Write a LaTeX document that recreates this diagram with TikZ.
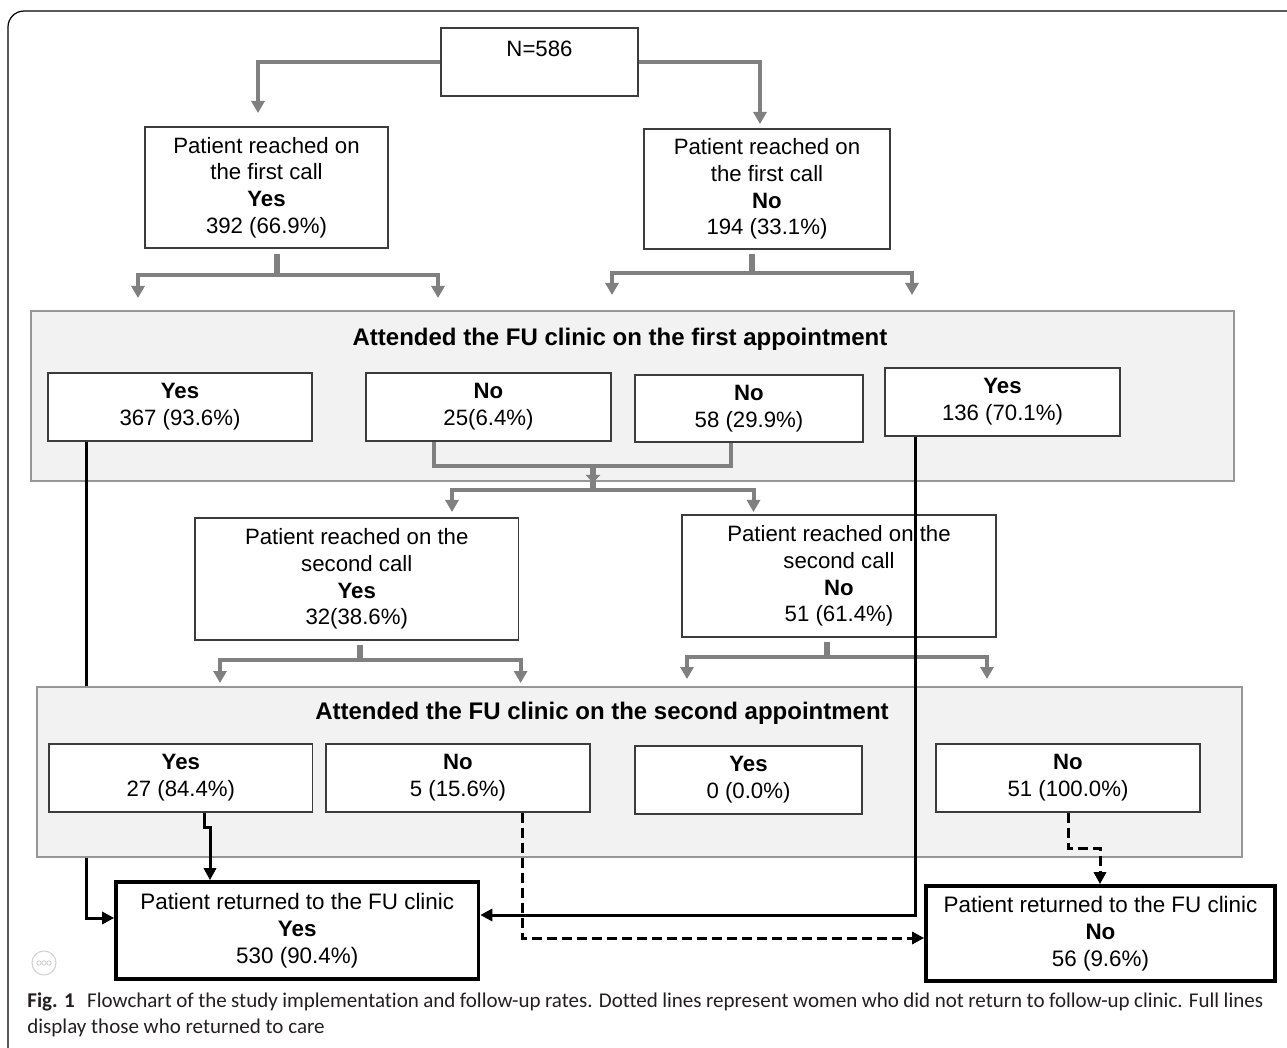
\documentclass[tikz,border=0pt]{standalone}
\usepackage{fontspec}
\setmainfont{Liberation Sans}
\newfontfamily\capfont[Ligatures=NoCommon]{Carlito}
\usetikzlibrary{arrows.meta,calc}
\definecolor{glinec}{RGB}{128,128,128}
\definecolor{pfill}{RGB}{242,242,242}
\definecolor{pborder}{RGB}{150,150,150}
\definecolor{bborder}{RGB}{60,60,60}
\definecolor{captxt}{RGB}{35,31,32}
\begin{document}
\begin{tikzpicture}[x=0.5pt,y=-0.5pt,
  box/.style={draw=bborder, line width=0.7pt, fill=white, inner sep=0pt, align=center, font=\fontsize{11.1}{13.4}\selectfont},
  panel/.style={draw=pborder, line width=1.2pt, fill=pfill, inner sep=0pt},
  final/.style={draw=black, line width=1.8pt, fill=white, inner sep=0pt, align=center, font=\fontsize{11.2}{13.4}\selectfont},
  heading/.style={font=\fontsize{12}{14}\selectfont\bfseries, inner sep=0pt},
  glink/.style={draw=glinec, line width=2pt},
  garrow/.style={draw=glinec, line width=2pt, -{Triangle[width=6.5pt,length=6pt]}},
  gstem/.style={draw=glinec, line width=3pt},
  barrow/.style={draw=black, line width=1.5pt, -{Triangle[width=6pt,length=6pt]}},
  darrow/.style={barrow, dash pattern=on 5pt off 2.5pt},
]
\useasboundingbox (0,0) rectangle (1287,1048);
\clip (0,0) rectangle (1287,1048);
\fill[white] (0,0) rectangle (1287,1048);
\draw[line width=0.6pt, rounded corners=8pt] (8,11) rectangle (1320,1075);

% top level
\node[box, minimum width=98.5pt, minimum height=34pt] (n0) at (539.5,62) {N=586\\\mbox{}};
\node[box, minimum width=121.5pt, minimum height=60.5pt] (c1y) at (266.5,187.5) {Patient reached on\\the first call\\\textbf{Yes}\\392 (66.9\%)};
\node[box, minimum width=123pt, minimum height=60pt] (c1n) at (767,189) {Patient reached on\\the first call\\\textbf{No}\\194 (33.1\%)};

\coordinate (t0a) at (258,113);
\coordinate (t0b) at (760,124);
\draw[garrow] (n0.west) -| (t0a);
\draw[garrow] (n0.east) -| (t0b);

\coordinate (j1) at (277,275);
\coordinate (t1a) at (138,298);
\coordinate (t1b) at (438,298);
\draw[gstem] ($(c1y.south -| j1)+(0,5)$) -- ($(j1)+(0,1)$);
\draw[garrow] (j1) -| (t1a);
\draw[garrow] (j1) -| (t1b);

\coordinate (j2) at (752,273);
\coordinate (t2a) at (612,295);
\coordinate (t2b) at (912,295);
\draw[gstem] ($(c1n.south -| j2)+(0,4)$) -- ($(j2)+(0,1)$);
\draw[garrow] (j2) -| (t2a);
\draw[garrow] (j2) -| (t2b);

% first appointment panel
\node[panel, minimum width=601.5pt, minimum height=85pt] (p1) at (632.5,396) {};
\node[heading] (h1) at (620,339) {Attended the FU clinic on the first appointment};
\node[box, minimum width=132pt, minimum height=34pt] (a1y) at (180,407) {\textbf{Yes}\\367 (93.6\%)};
\node[box, minimum width=122.5pt, minimum height=34pt] (a1n1) at (488.5,407) {\textbf{No}\\25(6.4\%)};
\node[box, minimum width=114pt, minimum height=33.5pt] (a1n2) at (749,408.5) {\textbf{No}\\58 (29.9\%)};
\node[box, minimum width=117.5pt, minimum height=34pt] (a1y2) at (1002.5,402) {\textbf{Yes}\\136 (70.1\%)};

\coordinate (j3a) at (433.5,466);
\coordinate (j3b) at (731,466);
\coordinate (j3) at (593,466);
\coordinate (j4) at (593,490);
\coordinate (t4a) at (452,512);
\coordinate (t4b) at (753.5,512);
\draw[glink] (a1n1.south -| j3a) -- (j3a) -- (j3b) -- (a1n2.south -| j3b);
\draw[draw=glinec, line width=3pt, -{Triangle[width=7pt,length=4pt]}] (j3) -- (593,483);
\draw[gstem] (593,481) -- ($(j4)+(0,2)$);
\draw[garrow] (j4) -| (t4a);
\draw[garrow] (j4) -| (t4b);

% second call
\node[box, minimum width=161.75pt, minimum height=61pt] (c2y) at (356.75,579) {Patient reached on the\\second call\\\textbf{Yes}\\32(38.6\%)};
\node[box, minimum width=157pt, minimum height=61pt] (c2n) at (839,576) {Patient reached on the\\second call\\\textbf{No}\\51 (61.4\%)};

\coordinate (j5) at (360,660);
\coordinate (t5a) at (220,683);
\coordinate (t5b) at (520.6,683);
\draw[gstem] ($(c2y.south -| j5)+(0,4)$) -- ($(j5)+(0,1)$);
\draw[garrow] (j5) -| (t5a);
\draw[garrow] (j5) -| (t5b);

\coordinate (j6) at (827,657);
\coordinate (t6a) at (687,679);
\coordinate (t6b) at (987,679);
\draw[gstem] ($(c2n.south -| j6)+(0,4)$) -- ($(j6)+(0,1)$);
\draw[garrow] (j6) -| (t6a);
\draw[garrow] (j6) -| (t6b);

% final boxes
\node[final, minimum width=181.25pt, minimum height=48.5pt] (fy) at (297.25,930.5) {Patient returned to the FU clinic\\\textbf{Yes}\\530 (90.4\%)};
\node[final, minimum width=174.5pt, minimum height=47.5pt] (fn) at (1100.5,933.5) {Patient returned to the FU clinic\\\textbf{No}\\56 (9.6\%)};

% black line behind second panel
\coordinate (k1) at (86,918);
\draw[barrow] (a1y.south -| k1) -- (k1) -- (fy.west |- k1);

% second appointment panel
\node[panel, minimum width=602.5pt, minimum height=85pt] (p2) at (639.5,772) {};
\node[heading] (h2) at (602,713) {Attended the FU clinic on the second appointment};
\node[box, minimum width=131.85pt, minimum height=34pt] (a2y) at (180.85,778) {\textbf{Yes}\\27 (84.4\%)};
\node[box, minimum width=132pt, minimum height=34pt] (a2n) at (458,778) {\textbf{No}\\5 (15.6\%)};
\node[box, minimum width=113.5pt, minimum height=34pt] (a2y2) at (748.5,780) {\textbf{Yes}\\0 (0.0\%)};
\node[box, minimum width=132pt, minimum height=34pt] (a2n2) at (1068,778) {\textbf{No}\\51 (100.0\%)};

\coordinate (k3a) at (204,827);
\coordinate (k3b) at (210,827);
\draw[barrow] (a2y.south -| k3a) -- (k3a) -- (k3b) -- (fy.north -| k3b);
\coordinate (k4) at (522,938);
\draw[darrow] (a2n.south -| k4) -- (k4) -- (fn.west |- k4);
\coordinate (k5a) at (1068,848);
\coordinate (k5b) at (1100,848);
\draw[darrow] (a2n2.south) -- (k5a) -- (k5b) -- (fn.north -| k5b);

\coordinate (k2) at (915,915);
\draw[barrow] (a1y2.south -| k2) -- (k2) -- (fy.east |- k2);

% small icon
\draw[black!18, line width=0.5pt] (44,963) circle[radius=6pt];
\foreach \dx in {-5,0,5} \draw[black!25, line width=0.3pt] (44+\dx,963) circle[radius=1.1pt];

% caption
\node[anchor=west, inner sep=0pt, text=captxt] (cap1) at (27,1002) {\capfont\fontsize{10.5}{12}\selectfont\makebox[618pt][s]{\textbf{Fig. 1}\hspace{0.6em}Flowchart of the study implementation and follow-up rates. Dotted lines represent women who did not return to follow-up clinic. Full lines}};
\node[anchor=west, inner sep=0pt, text=captxt] (cap2) at (27,1028) {\capfont\fontsize{10.5}{12}\selectfont display those who returned to care};
\end{tikzpicture}
\end{document}
